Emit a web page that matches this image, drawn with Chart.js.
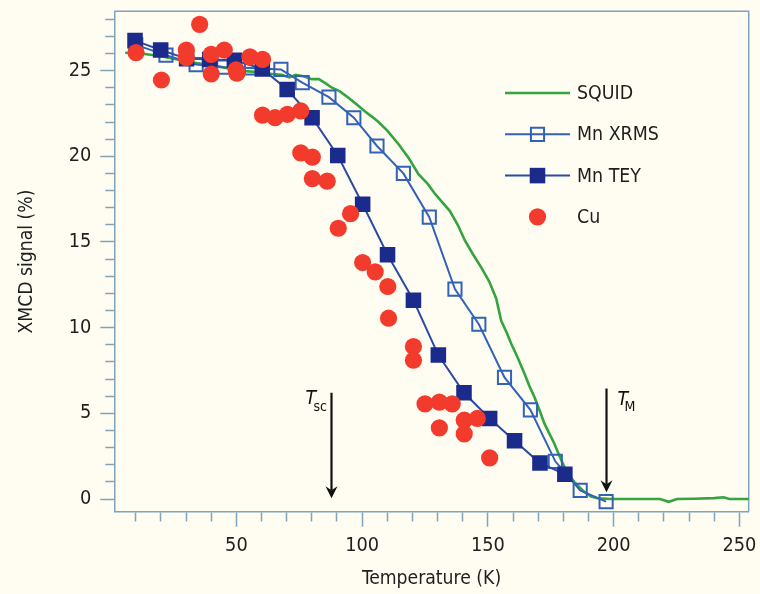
<!DOCTYPE html>
<html>
<head>
<meta charset="utf-8">
<title>XMCD signal vs temperature</title>
<script src="https://cdn.jsdelivr.net/npm/chart.js@4/dist/chart.umd.min.js"></script>
<style>
  html, body { margin: 0; padding: 0; background: #fffdf2; }
  #wrap { width: 760px; height: 594px; }
</style>
</head>
<body>
<div id="wrap"><canvas id="chart" width="760" height="594"></canvas></div>
<script>
// ---- data: temperature (K) and XMCD signal (%) ----
const squidT = [5.8, 12, 19.5, 25, 30, 36, 42, 48, 53.8, 59, 64.3, 68, 71, 73.6, 77, 80, 82.8, 85.5, 88, 91,
  94.7, 98, 101.3, 104, 106.5, 110, 114.5, 118.5, 122.4, 126, 129, 132, 134.9, 138, 140.8, 144, 147.4, 150.5,
  153.3, 155.3, 157.5, 159.3, 162, 164.6, 166.5, 168.5, 170.5, 172.5, 174.5, 176.4, 178.5, 180.4, 182.3,
  184.3, 186.3, 188.3, 191, 193.6, 198.7, 205, 212, 218.5, 221.9, 225.2, 232, 240, 243.7, 246, 254];
const squidV = [26.04, 26.0, 25.85, 25.7, 25.55, 25.4, 25.26, 25.1, 24.97, 24.9, 24.8, 24.75, 24.6, 24.75, 24.65,
  24.5, 24.5, 24.25, 24.0, 23.8, 23.4, 23.0, 22.6, 22.3, 22.0, 21.5, 20.7, 19.9, 18.96, 18.4, 17.8, 17.3, 16.8,
  16.0, 15.1, 14.3, 13.5, 12.7, 11.7, 10.4, 9.7, 9.06, 8.2, 7.3, 6.6, 5.95, 5.2, 4.4, 3.8, 3.24, 2.5, 1.88, 1.4,
  1.0, 0.7, 0.42, 0.15, 0.04, 0.0, 0.0, 0.0, 0.0, -0.16, 0.0, 0.02, 0.05, 0.1, 0.0, 0.0];

const xrmsT = [10, 22, 34, 45, 56, 67.7, 76.2, 86.8, 96.7, 105.9, 116.4, 126.7, 136.9, 146.4, 156.6, 166.9, 176.8, 186.7, 197.0];
const xrmsV = [26.5, 25.9, 25.35, 25.2, 25.15, 25.07, 24.3, 23.45, 22.25, 20.6, 19.0, 16.45, 12.25, 10.2, 7.1, 5.2, 2.2, 0.5, -0.15];

const teyT = [9.7, 19.9, 30.2, 39.4, 49.2, 60.3, 70.2, 80.1, 90.3, 100.2, 110.1, 120.4, 130.3, 140.5, 150.7, 160.6, 170.7, 180.6];
const teyV = [26.75, 26.2, 25.7, 25.65, 25.6, 25.1, 23.9, 22.25, 20.05, 17.2, 14.25, 11.6, 8.4, 6.2, 4.7, 3.4, 2.1, 1.45];

const cuT = [10.1, 20.2, 30.1, 30.1, 35.4, 40.0, 40.0, 45.2, 49.9, 50.2, 55.4, 60.4, 60.4, 65.4, 70.3, 75.6, 75.6,
  80.2, 80.2, 86.1, 90.5, 95.4, 100.2, 105.2, 110.2, 110.5, 120.4, 120.4, 125, 130.7, 135.8, 130.7, 140.6, 140.6, 145.8, 150.7];
const cuV = [26.05, 24.45, 26.2, 25.75, 27.7, 25.95, 24.8, 26.2, 25.05, 24.85, 25.8, 25.65, 22.4, 22.25, 22.45, 22.65, 20.2,
  19.95, 18.7, 18.55, 15.8, 16.65, 13.8, 13.25, 12.4, 10.55, 8.9, 8.1, 5.55, 5.65, 5.55, 4.15, 4.6, 3.8, 4.7, 2.4];

// axis ranges and tick steps
const xRange = [1.46, 253.7];
const yRange = [-0.74, 28.46];
const xStep = 10, xMajor = 50;
const yStep = 1, yMajor = 5;

// transition markers: subscript, temperature, arrow top and tip (signal %)
const markerNames = ['sc', 'M'];
const markerT = [87.5, 197.1];
const markerTop = [6.2, 6.45];
const markerTip = [0.05, 0.4];

// ---- fonts: prefer a narrow sans, size text to its intended width ----
const measureCtx = document.createElement('canvas').getContext('2d');
function textWidth(font, text) { measureCtx.font = font; return measureCtx.measureText(text).width; }
function hasFamily(fam) {
  const s = 'Temperature (K) XMCD signal 0123456789';
  return ['monospace', 'serif'].every(b =>
    Math.abs(textWidth('50px ' + b, s) - textWidth("50px '" + fam + "', " + b, s)) > 0.5);
}
const familyCandidates = ['Liberation Sans Narrow', 'Arial Narrow', 'DejaVu Sans Condensed', 'Nimbus Sans Narrow',
  'Roboto Condensed', 'Liberation Sans', 'Arial'];
const FAMILY = familyCandidates.find(hasFamily) || 'sans-serif';
const FONT = "'" + FAMILY + "', sans-serif";
function fitSize(text, width, cap) {
  return Math.min(cap, +(100 * width / textWidth('100px ' + FONT, text)).toFixed(1));
}
const titleSize = fitSize('Temperature (K)', 139, 23);
const tickSize = fitSize('150', 34, 23);
const legendSize = fitSize('Mn XRMS', 82, 22);

// ---- styling ----
const INK = '#1e1e1e';
const AXIS = '#7fa4b9';
const PAPER = '#fffdf2';

const pairs = (xs, ys) => xs.map((x, i) => ({ x: x, y: ys[i] }));
const isMajor = (v, step) => Math.abs(v - Math.round(v)) < 1e-6 && Math.round(v) % step === 0;

const backdrop = {
  id: 'backdrop',
  beforeDraw(chart) {
    const { ctx, width, height } = chart;
    ctx.save();
    ctx.fillStyle = PAPER;
    ctx.fillRect(0, 0, width, height);
    ctx.restore();
  }
};

// top and right edges of the plot frame
const frame = {
  id: 'frame',
  beforeDatasetsDraw(chart) {
    const { ctx, chartArea: a } = chart;
    ctx.save();
    ctx.strokeStyle = AXIS;
    ctx.lineWidth = 1.5;
    ctx.beginPath();
    ctx.moveTo(a.left, a.top);
    ctx.lineTo(a.right, a.top);
    ctx.lineTo(a.right, a.bottom);
    ctx.stroke();
    ctx.restore();
  }
};

// labelled arrows for T_sc and T_M
const labelStyle = {
  sc: { tx: -26, ty: 11, sx: -18, sy: 18 },
  M:  { tx: 11,  ty: 17, sx: 18,  sy: 23 }
};
const arrows = {
  id: 'arrows',
  afterDatasetsDraw(chart) {
    const { ctx, scales: { x, y } } = chart;
    ctx.save();
    markerNames.forEach((name, i) => {
      const px = Math.round(x.getPixelForValue(markerT[i])) + 0.5;
      const y0 = y.getPixelForValue(markerTop[i]);
      const y1 = y.getPixelForValue(markerTip[i]);
      ctx.strokeStyle = '#111';
      ctx.fillStyle = '#111';
      ctx.lineWidth = 2.2;
      ctx.beginPath();
      ctx.moveTo(px, y0);
      ctx.lineTo(px, y1 - 8);
      ctx.stroke();
      ctx.beginPath();
      ctx.moveTo(px - 6, y1 - 12);
      ctx.lineTo(px, y1);
      ctx.lineTo(px + 6, y1 - 12);
      ctx.lineTo(px, y1 - 8);
      ctx.closePath();
      ctx.fill();
      const s = labelStyle[name];
      ctx.textBaseline = 'alphabetic';
      ctx.textAlign = 'left';
      ctx.font = 'italic ' + legendSize + 'px ' + FONT;
      ctx.fillText('T', px + s.tx, y0 + s.ty);
      ctx.font = Math.round(legendSize * 0.72) + 'px ' + FONT;
      ctx.fillText(name, px + s.sx, y0 + s.sy);
    });
    ctx.restore();
  }
};

// legend: short line with the marker, then the series name
const legendBox = { lineX0: 505, lineX1: 570, textX: 577, rowY0: 93, rowGap: 41.3 };
const legendRows = ['SQUID', 'Mn XRMS', 'Mn TEY', 'Cu'];
const seriesLegend = {
  id: 'seriesLegend',
  afterDraw(chart) {
    const { ctx } = chart;
    const L = legendBox;
    ctx.save();
    legendRows.forEach((label, r) => {
      const ds = chart.data.datasets.find(d => d.label === label);
      const cy = L.rowY0 + r * L.rowGap;
      const cx = (L.lineX0 + L.lineX1) / 2;
      if (ds.showLine) {
        ctx.strokeStyle = ds.borderColor;
        ctx.lineWidth = ds.borderWidth;
        ctx.beginPath();
        ctx.moveTo(L.lineX0, cy);
        ctx.lineTo(L.lineX1, cy);
        ctx.stroke();
      }
      if (ds.pointRadius > 0) {
        ctx.fillStyle = ds.pointBackgroundColor;
        ctx.strokeStyle = ds.pointBorderColor;
        ctx.lineWidth = ds.pointBorderWidth;
        Chart.helpers.drawPoint(ctx, {
          pointStyle: ds.pointStyle, radius: ds.pointRadius, rotation: 0, borderWidth: ds.pointBorderWidth
        }, cx, cy);
      }
      ctx.fillStyle = INK;
      ctx.font = legendSize + 'px ' + FONT;
      ctx.textBaseline = 'middle';
      ctx.textAlign = 'left';
      ctx.fillText(label, L.textX, cy + 1);
    });
    ctx.restore();
  }
};

const tickFont = { family: FONT, size: tickSize };
const titleFont = { family: FONT, size: titleSize };

new Chart(document.getElementById('chart'), {
  type: 'scatter',
  data: {
    datasets: [
      {
        label: 'SQUID', data: pairs(squidT, squidV), showLine: true,
        borderColor: '#34a440', borderWidth: 2.6, pointRadius: 0, tension: 0, order: 3
      },
      {
        label: 'Mn XRMS', data: pairs(xrmsT, xrmsV), showLine: true,
        borderColor: '#3262b7', borderWidth: 2, tension: 0,
        pointStyle: 'rect', pointRadius: 9.3, pointBackgroundColor: 'rgba(0,0,0,0)',
        pointBorderColor: '#3262b7', pointBorderWidth: 2, order: 2
      },
      {
        label: 'Mn TEY', data: pairs(teyT, teyV), showLine: true,
        borderColor: '#2b4aa6', borderWidth: 2, tension: 0,
        pointStyle: 'rect', pointRadius: 11, pointBackgroundColor: '#1b2b8b',
        pointBorderColor: '#1b2b8b', pointBorderWidth: 0, order: 1
      },
      {
        label: 'Cu', data: pairs(cuT, cuV), showLine: false,
        pointStyle: 'circle', pointRadius: 8.6, pointBackgroundColor: '#f23b2d',
        pointBorderColor: '#f23b2d', pointBorderWidth: 0, order: 0
      }
    ]
  },
  options: {
    responsive: false,
    animation: false,
    devicePixelRatio: 1,
    layout: { padding: { left: 0, top: 10, right: 8, bottom: 0 } },
    plugins: { legend: { display: false }, tooltip: { enabled: false } },
    scales: {
      x: {
        type: 'linear', min: xRange[0], max: xRange[1],
        afterFit: s => { s.height = 82.3; s.paddingLeft = 0; s.paddingRight = 0; },
        border: { color: AXIS, width: 1.5 },
        grid: {
          drawOnChartArea: false, tickLength: 15, tickColor: AXIS, tickWidth: 1.5,
          tickBorderDash: c => (c.tick && isMajor(c.tick.value, xMajor)) ? [] : [9, 30]
        },
        ticks: {
          stepSize: xStep, autoSkip: false, includeBounds: false, maxRotation: 0, padding: 7,
          color: INK, font: tickFont,
          callback: v => isMajor(v, xMajor) ? String(Math.round(v)) : ''
        },
        title: { display: true, text: 'Temperature (K)', color: INK, font: titleFont, padding: { top: 0, bottom: 3 } }
      },
      y: {
        type: 'linear', min: yRange[0], max: yRange[1],
        afterFit: s => { s.width = 114.3; s.paddingTop = 0; s.paddingBottom = 0; },
        border: { color: AXIS, width: 1.5 },
        grid: {
          drawOnChartArea: false, tickLength: 14, tickColor: AXIS, tickWidth: 1.5,
          tickBorderDash: c => (c.tick && isMajor(c.tick.value, yMajor)) ? [] : [0, 5, 9, 0]
        },
        ticks: {
          stepSize: yStep, autoSkip: false, includeBounds: false, padding: 9,
          color: INK, font: tickFont,
          callback: v => isMajor(v, yMajor) ? String(Math.round(v)) : ''
        },
        title: { display: true, text: 'XMCD signal (%)', color: INK, font: titleFont, padding: { top: 15, bottom: 0 } }
      }
    }
  },
  plugins: [backdrop, frame, arrows, seriesLegend]
});
</script>
</body>
</html>
